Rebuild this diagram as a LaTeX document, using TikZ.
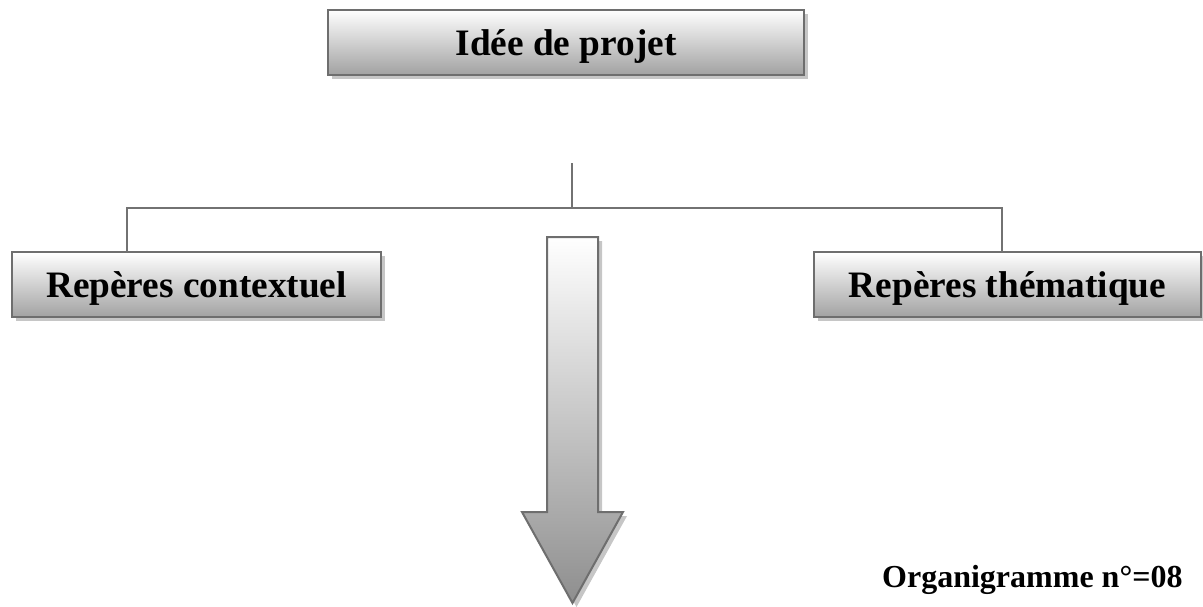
\documentclass[tikz,border=0pt]{standalone}
\usepackage{fontspec}
\setmainfont{Liberation Serif}
\usetikzlibrary{shadows}
\begin{document}
\begin{tikzpicture}[x=1pt,y=-1pt,
  boxedge/.style={draw=boxline,line width=2pt},
  titlebox/.style={boxedge,top color=white,bottom color=boxlow,
    minimum height=65pt,inner sep=0pt,text height=28pt,text depth=2pt,
    font=\bfseries\fontsize{37.3}{40}\selectfont,
    drop shadow={shadow xshift=4pt,shadow yshift=-4pt,fill=shadowgray,opacity=1}},
  linkline/.style={draw=linkgray,line width=2.5pt},
  linkshadow/.style={draw=shadowgray,line width=2.5pt}]
\definecolor{boxline}{HTML}{6E6E6E}
\definecolor{boxlow}{HTML}{A2A2A2}
\definecolor{shadowgray}{HTML}{C6C6C6}
\definecolor{linkgray}{HTML}{727272}
\definecolor{arrowlow}{HTML}{8E8E8E}
\useasboundingbox (0,0) rectangle (1203,606);

% boxes
\node[titlebox,minimum width=476pt] (idea) at (566,42) {Idée de projet};
\node[titlebox,minimum width=369pt] (ctx) at (196.5,284.5) {Repères contextuel};
\node[titlebox,minimum width=387pt] (them) at (1007.5,284.5) {Repères thématique};

% branch connector
\coordinate (stem) at (572,163);
\coordinate (bar) at (572,208);
\coordinate (lj) at (127,252);
\coordinate (rj) at (1002,252);
\begin{scope}[shift={(3,3)}]
  \draw[linkshadow] (stem) -- (bar);
  \draw[linkshadow] (lj) -- (lj |- bar) -- (rj |- bar) -- (rj);
\end{scope}
\draw[linkline] (stem) -- (bar);
\draw[linkline] (lj) -- (lj |- bar) -- (rj |- bar) -- (rj);

% big downward arrow
\fill[shadowgray] (551,241) -- (602,241) -- (602,516) -- (627,516)
  -- (576.5,607) -- (526,516) -- (551,516) -- cycle;
\draw[boxedge,top color=white,bottom color=arrowlow]
  (547,237) -- (598,237) -- (598,512) -- (623,512)
  -- (572.5,603) -- (522,512) -- (547,512) -- cycle;

% caption
\node[anchor=base west,inner sep=0pt,font=\bfseries\fontsize{32}{36}\selectfont]
  (cap) at (882,587) {Organigramme n°=08};
\end{tikzpicture}
\end{document}
